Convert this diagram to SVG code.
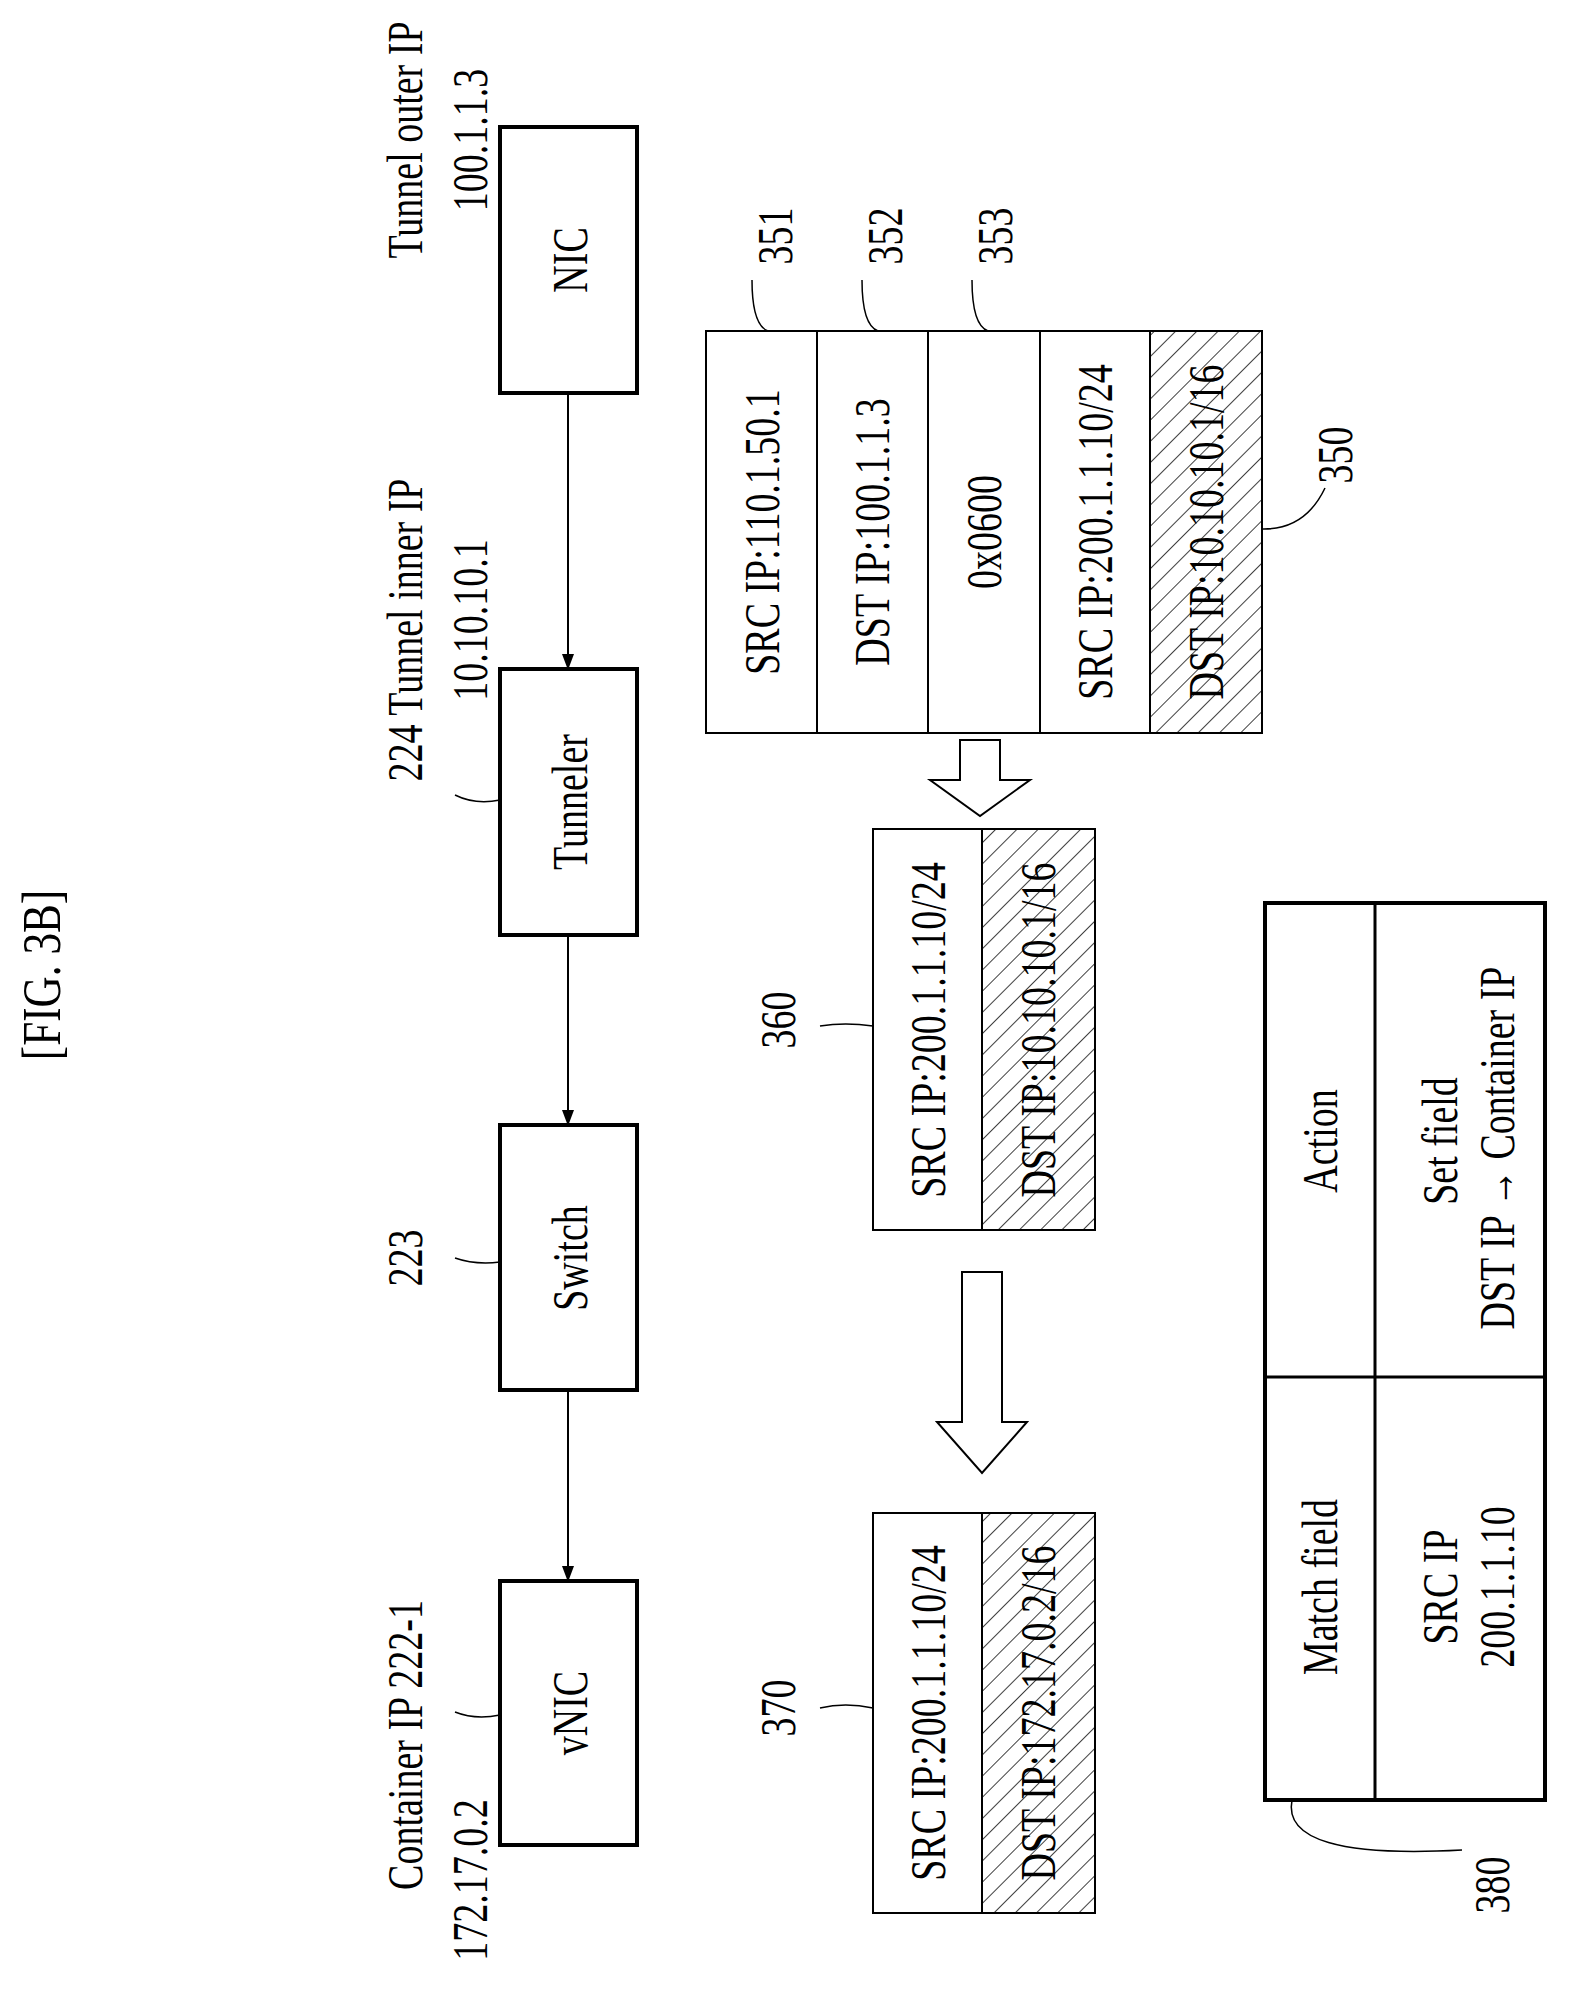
<svg xmlns="http://www.w3.org/2000/svg" width="1572" height="1993" viewBox="0 0 1572 1993">
<style>
text{font-family:"Liberation Serif","Times New Roman",serif;font-size:50px;fill:#000;text-anchor:middle;dominant-baseline:central}
.box{fill:#fff;stroke:#000;stroke-width:4}
.thin{fill:none;stroke:#000;stroke-width:2}
.hat{fill:url(#h);stroke:#000;stroke-width:2}
.lead{fill:none;stroke:#000;stroke-width:1.5}
</style>
<defs>
<pattern id="h" width="15" height="15" patternUnits="userSpaceOnUse" patternTransform="rotate(45)">
<rect width="15" height="15" fill="#fff"/><line x1="0" y1="0" x2="0" y2="15" stroke="#000" stroke-width="1.5"/>
</pattern>
<marker id="a2" markerWidth="16" markerHeight="16" refX="15" refY="8" orient="auto" markerUnits="userSpaceOnUse" viewBox="0 0 16 16"><path d="M0,2 L16,8 L0,14 z" fill="#000"/></marker>
</defs>
<text transform="translate(42,975) rotate(-90) scale(0.8,1)" style="font-size:54px">[FIG. 3B]</text>

<g id="connectors">
<line x1="568" y1="393" x2="568" y2="669" stroke="#000" stroke-width="2" marker-end="url(#a2)"/>
<line x1="568" y1="935" x2="568" y2="1125" stroke="#000" stroke-width="2" marker-end="url(#a2)"/>
<line x1="568" y1="1390" x2="568" y2="1581" stroke="#000" stroke-width="2" marker-end="url(#a2)"/>
<path class="thin" d="M960,740 L960,780 L930,780 L980,816 L1030,780 L1000,780 L1000,740 Z"/>
<path class="thin" d="M962,1272 L962,1422 L937,1422 L982,1473 L1027,1422 L1002,1422 L1002,1272 Z"/>
<path class="lead" d="M455,795 Q475,805 500,800"/>
<path class="lead" d="M455,1258 Q475,1265 500,1262"/>
<path class="lead" d="M455,1712 Q475,1720 500,1715"/>
<path class="lead" d="M752,280 Q752,325 768,331"/>
<path class="lead" d="M862,280 Q862,325 878,331"/>
<path class="lead" d="M972,280 Q972,325 988,331"/>
<path class="lead" d="M1262,529 Q1305,530 1325,488"/>
<path class="lead" d="M820,1026 Q845,1022 873,1026"/>
<path class="lead" d="M820,1708 Q845,1702 873,1708"/>
<path class="lead" d="M1292,1800 Q1280,1860 1462,1850"/>
</g>

<g id="nic"><rect class="box" x="500" y="127" width="137" height="266"/><text transform="translate(570,260) rotate(-90) scale(0.76,1)">NIC</text>
<text transform="translate(405,140) rotate(-90) scale(0.76,1)">Tunnel outer IP</text>
<text transform="translate(470,140) rotate(-90) scale(0.76,1)">100.1.1.3</text></g>
<g id="tunneler"><rect class="box" x="500" y="669" width="137" height="266"/><text transform="translate(570,802) rotate(-90) scale(0.76,1)">Tunneler</text>
<text transform="translate(405,630) rotate(-90) scale(0.76,1)">224 Tunnel inner IP</text>
<text transform="translate(470,620) rotate(-90) scale(0.76,1)">10.10.10.1</text></g>
<g id="switch"><rect class="box" x="500" y="1125" width="137" height="265"/><text transform="translate(570,1258) rotate(-90) scale(0.76,1)">Switch</text>
<text transform="translate(405,1258) rotate(-90) scale(0.76,1)">223</text></g>
<g id="vnic"><rect class="box" x="500" y="1581" width="137" height="264"/><text transform="translate(570,1713) rotate(-90) scale(0.76,1)">vNIC</text>
<text transform="translate(405,1745) rotate(-90) scale(0.76,1)">Container IP  222-1</text>
<text transform="translate(470,1880) rotate(-90) scale(0.76,1)">172.17.0.2</text></g>

<g id="p350">
<rect class="thin" x="706" y="331" width="444" height="402"/>
<rect class="hat" x="1150" y="331" width="112" height="402"/>
<line class="thin" x1="817" y1="331" x2="817" y2="733"/><line class="thin" x1="928" y1="331" x2="928" y2="733"/><line class="thin" x1="1040" y1="331" x2="1040" y2="733"/>
<text transform="translate(762,532) rotate(-90) scale(0.76,1)">SRC IP:110.1.50.1</text>
<text transform="translate(872,532) rotate(-90) scale(0.76,1)">DST IP:100.1.1.3</text>
<text transform="translate(984,532) rotate(-90) scale(0.76,1)">0x0600</text>
<text transform="translate(1095,532) rotate(-90) scale(0.76,1)">SRC IP:200.1.1.10/24</text>
<text transform="translate(1206,532) rotate(-90) scale(0.76,1)">DST IP:10.10.10.1/16</text>
<text transform="translate(775,236) rotate(-90) scale(0.76,1)">351</text>
<text transform="translate(885,236) rotate(-90) scale(0.76,1)">352</text>
<text transform="translate(995,236) rotate(-90) scale(0.76,1)">353</text>
<text transform="translate(1335,455) rotate(-90) scale(0.76,1)">350</text>
</g>
<g id="p360">
<rect class="thin" x="873" y="829" width="109" height="401"/>
<rect class="hat" x="982" y="829" width="113" height="401"/>
<text transform="translate(928,1030) rotate(-90) scale(0.76,1)">SRC IP:200.1.1.10/24</text>
<text transform="translate(1038,1030) rotate(-90) scale(0.76,1)">DST IP:10.10.10.1/16</text>
<text transform="translate(778,1020) rotate(-90) scale(0.76,1)">360</text>
</g>
<g id="p370">
<rect class="thin" x="873" y="1513" width="109" height="400"/>
<rect class="hat" x="982" y="1513" width="113" height="400"/>
<text transform="translate(928,1713) rotate(-90) scale(0.76,1)">SRC IP:200.1.1.10/24</text>
<text transform="translate(1038,1713) rotate(-90) scale(0.76,1)">DST IP:172.17.0.2/16</text>
<text transform="translate(778,1708) rotate(-90) scale(0.76,1)">370</text>
</g>
<g id="t380">
<rect class="box" x="1265" y="903" width="280" height="897"/>
<line x1="1375" y1="903" x2="1375" y2="1800" stroke="#000" stroke-width="3"/>
<line x1="1265" y1="1377" x2="1545" y2="1377" stroke="#000" stroke-width="3"/>
<text transform="translate(1320,1141) rotate(-90) scale(0.76,1)">Action</text>
<text transform="translate(1440,1141) rotate(-90) scale(0.76,1)">Set field</text>
<text transform="translate(1497,1148) rotate(-90) scale(0.76,1)">DST IP → Container IP</text>
<text transform="translate(1320,1587) rotate(-90) scale(0.76,1)">Match field</text>
<text transform="translate(1440,1587) rotate(-90) scale(0.76,1)">SRC IP</text>
<text transform="translate(1497,1587) rotate(-90) scale(0.76,1)">200.1.1.10</text>
<text transform="translate(1492,1885) rotate(-90) scale(0.76,1)">380</text>
</g>
</svg>
